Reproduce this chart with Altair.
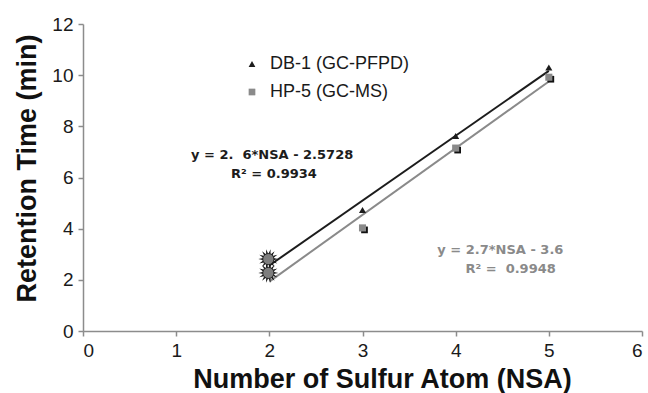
import math
import altair as alt
import pandas as pd

# ---- data ----
nsa = [2, 3, 4, 5]
db1_rt = [2.81, 4.73, 7.62, 10.3]
hp5_rt = [2.27, 4.03, 7.15, 9.92]
series = ["DB-1 (GC-PFPD)", "HP-5 (GC-MS)"]

x_ticks = [0, 1, 2, 3, 4, 5, 6]
y_ticks = [0, 2, 4, 6, 8, 10, 12]

eq_text = ["y = 2.\u00a0 6*NSA - 2.5728", "R\u00b2 = 0.9934", "y = 2.7*NSA - 3.6", "R\u00b2 =\u00a0 0.9948"]
eq_x = [2.03, 2.05, 4.48, 4.59]
eq_y = [6.88, 6.14, 3.17, 2.42]
eq_series = [series[0], series[0], series[1], series[1]]

dark = "#1c1c1c"
gray = "#8a8a8a"

df = pd.DataFrame({
    "nsa": nsa * 2,
    "rt": db1_rt + hp5_rt,
    "series": [series[0]] * len(nsa) + [series[1]] * len(nsa),
})
eq_df = pd.DataFrame({"x": eq_x, "y": eq_y, "text": eq_text, "series": eq_series})

# burst (star) marker path
pts = []
n = 14
for k in range(2 * n):
    r = 1.0 if k % 2 == 0 else 0.5
    a = k * math.pi / n
    pts.append(f"{r * math.cos(a):.3f},{r * math.sin(a):.3f}")
star_path = "M" + " L".join(pts) + " Z"

xs = alt.Scale(domain=[0, 6], nice=False, zero=False)
ys = alt.Scale(domain=[0, 12], nice=False, zero=False)

X = alt.X("nsa:Q", scale=xs, axis=alt.Axis(
    values=x_ticks, title="Number of Sulfur Atom (NSA)", format="d",
    titleX=299, titleY=48, titleBaseline="middle", titleAlign="center"))
Y = alt.Y("rt:Q", scale=ys, axis=alt.Axis(
    values=y_ticks, title="Retention Time (min)", format="d",
    titleX=-56, titleY=144, titleAngle=-90, titleBaseline="middle", titleAlign="center"))

base = alt.Chart(df)

line_db = base.transform_filter(alt.datum.series == series[0]).transform_regression(
    "nsa", "rt").mark_line(color=dark, strokeWidth=2).encode(x=X, y=Y)
line_hp = base.transform_filter(alt.datum.series == series[1]).transform_regression(
    "nsa", "rt").mark_line(color=gray, strokeWidth=2).encode(x=X, y=Y)

later = base.transform_filter(alt.datum.nsa > 2)

shadow = later.transform_filter(alt.datum.series == series[1]).mark_point(
    shape="square", filled=True, color="#111111", size=45, opacity=1, xOffset=2, yOffset=2
).encode(x=X, y=Y)

points = later.mark_point(filled=True, size=50, opacity=1).encode(
    x=X, y=Y,
    color=alt.Color("series:N", scale=alt.Scale(domain=series, range=[dark, gray]),
                    legend=alt.Legend(title=None)),
    shape=alt.Shape("series:N", scale=alt.Scale(domain=series, range=["triangle-up", "square"]),
                    legend=alt.Legend(title=None)),
)

first = base.transform_filter(alt.datum.nsa == 2)
stars = first.mark_point(shape=star_path, filled=True, color="#151515", size=400, opacity=1,
                         xOffset=-1).encode(x=X, y=Y)
discs = first.mark_point(shape="circle", filled=True, color="#7e7e7e", size=125, opacity=1,
                         stroke="#2a2a2a", strokeWidth=1, xOffset=-1).encode(x=X, y=Y)

eq_base = alt.Chart(eq_df)
txt_db = eq_base.transform_filter(alt.datum.series == series[0]).mark_text(
    font="DejaVu Sans", fontWeight="bold", fontSize=13, color=dark, align="center", baseline="middle"
).encode(x=alt.X("x:Q", scale=xs), y=alt.Y("y:Q", scale=ys), text="text:N")
txt_hp = eq_base.transform_filter(alt.datum.series == series[1]).mark_text(
    font="DejaVu Sans", fontWeight="bold", fontSize=13, color=gray, align="center", baseline="middle"
).encode(x=alt.X("x:Q", scale=xs), y=alt.Y("y:Q", scale=ys), text="text:N")

chart = alt.layer(line_db, line_hp, shadow, points, stars, discs, txt_db, txt_hp).properties(
    width=559, height=307,
    autosize=alt.AutoSizeParams(type="none"),
    padding={"left": 83, "top": 24, "right": 6, "bottom": 62},
    background="white",
).configure_view(stroke=None).configure_axis(
    domainColor="#8c8c8c", domainWidth=1.5, tickColor="#8c8c8c", tickWidth=1.5, tickSize=5,
    grid=False, labelFont="Liberation Sans", labelFontSize=19, labelColor="#1a1a1a",
    labelPadding=5, titleFont="Liberation Sans", titleFontSize=27, titleFontWeight="bold",
    titleColor="#111111",
).configure_legend(
    orient="none", legendX=160, legendY=31, padding=0, labelFont="Liberation Sans",
    labelFontSize=18, labelColor="#1a1a1a", symbolSize=45, rowPadding=10, labelOffset=9,
    symbolStrokeWidth=0,
)

chart.save("out.html", embed_options={"renderer": "svg", "actions": False})
